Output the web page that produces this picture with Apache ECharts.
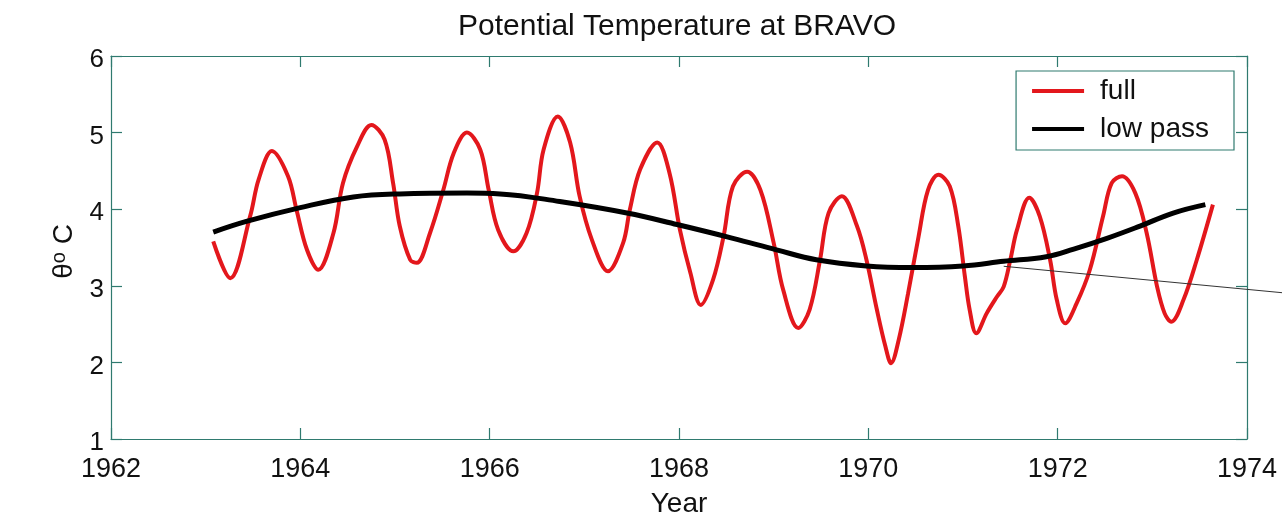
<!DOCTYPE html>
<html>
<head>
<meta charset="utf-8">
<script src="https://cdn.jsdelivr.net/npm/echarts@6/dist/echarts.min.js"></script>
<style>
  html, body { margin: 0; padding: 0; background: #fff; }
  #chart { width: 1282px; height: 517px; }
</style>
</head>
<body>
<div id="chart"></div>
<script>
// Potential temperature at Ocean Weather Station BRAVO, 1963-1973

// Full record: decimal year and potential temperature (deg C)
const fullYears = [
  1963.08, 1963.26, 1963.47, 1963.56, 1963.70, 1963.87, 1963.96, 1964.07, 1964.19, 1964.35,
  1964.45, 1964.60, 1964.75, 1964.89, 1964.98, 1965.05, 1965.16, 1965.23, 1965.37, 1965.51,
  1965.62, 1965.76, 1965.90, 1965.99, 1966.09, 1966.25, 1966.39, 1966.50, 1966.57, 1966.72,
  1966.85, 1966.95, 1967.08, 1967.25, 1967.41, 1967.48, 1967.59, 1967.77, 1967.90, 1968.01,
  1968.12, 1968.23, 1968.36, 1968.47, 1968.57, 1968.72, 1968.86, 1969.00, 1969.10, 1969.26,
  1969.38, 1969.49, 1969.58, 1969.72, 1969.88, 1969.98, 1970.09, 1970.18, 1970.24, 1970.32,
  1970.42, 1970.53, 1970.63, 1970.74, 1970.86, 1970.95, 1971.02, 1971.07, 1971.14, 1971.25,
  1971.36, 1971.43, 1971.50, 1971.57, 1971.70, 1971.81, 1971.92, 1971.99, 1972.08, 1972.20,
  1972.34, 1972.48, 1972.57, 1972.68, 1972.82, 1972.94, 1973.05, 1973.13, 1973.20, 1973.33,
  1973.47, 1973.64
];
const fullTemps = [
  3.58, 3.10, 3.91, 4.39, 4.76, 4.43, 3.99, 3.47, 3.21, 3.69,
  4.34, 4.82, 5.10, 4.91, 4.34, 3.78, 3.34, 3.30, 3.69, 4.25,
  4.73, 5.00, 4.78, 4.25, 3.73, 3.45, 3.69, 4.21, 4.78, 5.21,
  4.87, 4.17, 3.60, 3.19, 3.56, 3.99, 4.52, 4.87, 4.47, 3.73,
  3.17, 2.75, 3.08, 3.64, 4.30, 4.49, 4.25, 3.56, 2.95, 2.45,
  2.69, 3.34, 3.95, 4.17, 3.78, 3.34, 2.69, 2.21, 1.99, 2.29,
  2.90, 3.64, 4.25, 4.45, 4.30, 3.78, 3.12, 2.69, 2.38, 2.64,
  2.86, 2.99, 3.34, 3.73, 4.15, 3.91, 3.34, 2.82, 2.51, 2.77,
  3.21, 3.91, 4.34, 4.43, 4.21, 3.69, 2.99, 2.64, 2.53, 2.82,
  3.34, 4.06
];

// Low-pass filtered record
const lowYears = [
  1963.08, 1963.43, 1964.00, 1964.56, 1965.05, 1965.76, 1966.11, 1966.74, 1967.45, 1967.98,
  1968.57, 1969.03, 1969.45, 1969.98, 1970.47, 1971.00, 1971.43, 1971.88, 1972.17, 1972.52,
  1972.87, 1973.22, 1973.56
];
const lowTemps = [
  3.70, 3.84, 4.02, 4.16, 4.20, 4.21, 4.20, 4.10, 3.95, 3.80,
  3.62, 3.47, 3.34, 3.26, 3.24, 3.26, 3.32, 3.38, 3.48, 3.62,
  3.78, 3.95, 4.06
];

// Thin straight annotation line running off the right edge
const leaderYears = [1971.43, 1974.37];
const leaderTemps = [3.255, 2.91];

// Axis ticks
const xTicks = [1962, 1964, 1966, 1968, 1970, 1972, 1974];
const yTicks = [1, 2, 3, 4, 5, 6];

const seriesNames = ['full', 'low pass'];
const titleText = 'Potential Temperature at BRAVO';
const xName = 'Year';

const toPairs = (xs, ys) => xs.map((x, i) => [x, ys[i]]);

const axisColor = '#2f7a6f';
const textColor = '#111';
const fontFamily = '"Liberation Sans", Arial, Helvetica, sans-serif';

const xMin = xTicks[0], xMax = xTicks[xTicks.length - 1], xStep = xTicks[1] - xTicks[0];
const yMin = yTicks[0], yMax = yTicks[yTicks.length - 1], yStep = yTicks[1] - yTicks[0];

// Plot box in pixels
const W = 1282;
const gridBox = { left: 111, right: 35, top: 56, bottom: 78 };
const plotWidth = W - gridBox.left - gridBox.right;
// An overlay grid reaching the right page edge, with the same year scale,
// lets the annotation line run past the plot frame.
const overlayMax = xMax + gridBox.right * (xMax - xMin) / plotWidth;

const baseAxis = {
  type: 'value',
  axisLine: { show: true, onZero: false, lineStyle: { color: axisColor, width: 1.2 } },
  axisTick: { show: true, inside: true, length: 11, lineStyle: { color: axisColor, width: 1.2 } },
  splitLine: { show: false }
};

const hiddenAxis = {
  type: 'value',
  show: false,
  axisLine: { show: false }, axisTick: { show: false },
  axisLabel: { show: false }, splitLine: { show: false }
};

const chart = echarts.init(document.getElementById('chart'), null, { renderer: 'canvas' });

chart.setOption({
  backgroundColor: '#fff',
  animation: false,
  title: {
    text: titleText,
    left: 677,
    textAlign: 'center',
    top: 12,
    padding: 0,
    textStyle: { fontFamily, fontSize: 30, fontWeight: 'normal', color: textColor }
  },
  grid: [
    Object.assign({ outerBoundsMode: 'none', containLabel: false }, gridBox),
    { left: gridBox.left, right: 0, top: gridBox.top, bottom: gridBox.bottom,
      outerBoundsMode: 'none', containLabel: false }
  ],
  legend: {
    data: seriesNames,
    orient: 'vertical',
    right: 48,
    top: 71,
    padding: [6, 25, 7, 16],
    itemGap: 10,
    itemWidth: 52,
    itemHeight: 4,
    icon: 'rect',
    borderColor: axisColor,
    borderWidth: 1.2,
    backgroundColor: '#fff',
    borderRadius: 0,
    textStyle: { fontFamily, fontSize: 28, color: textColor, lineHeight: 28, padding: [0, 0, 0, 11] }
  },
  xAxis: [
    Object.assign({}, baseAxis, {
      gridIndex: 0,
      min: xMin, max: xMax, interval: xStep,
      position: 'bottom',
      name: xName,
      nameLocation: 'middle',
      nameGap: 51,
      nameTextStyle: { fontFamily, fontSize: 28, color: textColor },
      axisLabel: {
        fontFamily, fontSize: 27, color: textColor, margin: 17,
        showMinLabel: true, showMaxLabel: true,
        formatter: v => String(v)
      }
    }),
    Object.assign({}, baseAxis, {
      gridIndex: 0,
      min: xMin, max: xMax, interval: xStep,
      position: 'top',
      axisLabel: { show: false }
    }),
    Object.assign({}, hiddenAxis, { gridIndex: 1, min: xMin, max: overlayMax })
  ],
  yAxis: [
    Object.assign({}, baseAxis, {
      gridIndex: 0,
      min: yMin, max: yMax, interval: yStep,
      position: 'left',
      name: '{a|θ}{b|o}{a| C}',
      nameLocation: 'middle',
      nameRotate: 90,
      nameGap: 24,
      nameTextStyle: {
        fontFamily, fontSize: 28, color: textColor,
        padding: [0, 8, 0, 0],
        rich: {
          a: { fontFamily, fontSize: 28, color: textColor, lineHeight: 30 },
          b: { fontFamily, fontSize: 20, color: textColor, verticalAlign: 'top', lineHeight: 30 }
        }
      },
      axisLabel: {
        fontFamily, fontSize: 26, color: textColor, margin: 7,
        showMinLabel: true, showMaxLabel: true,
        formatter: v => '{v|' + v + '}',
        rich: {
          v: { fontFamily, fontSize: 26, color: textColor, padding: [8, 0, 0, 0] }
        }
      }
    }),
    Object.assign({}, baseAxis, {
      gridIndex: 0,
      min: yMin, max: yMax, interval: yStep,
      position: 'right',
      axisLabel: { show: false }
    }),
    Object.assign({}, hiddenAxis, { gridIndex: 1, min: yMin, max: yMax })
  ],
  series: [
    {
      name: seriesNames[0],
      type: 'line',
      xAxisIndex: 0, yAxisIndex: 0,
      data: toPairs(fullYears, fullTemps),
      smooth: 0.35,
      symbol: 'none',
      lineStyle: { color: '#e3171c', width: 4 },
      itemStyle: { color: '#e3171c' },
      z: 3
    },
    {
      name: seriesNames[1],
      type: 'line',
      xAxisIndex: 0, yAxisIndex: 0,
      data: toPairs(lowYears, lowTemps),
      smooth: 0.4,
      symbol: 'none',
      lineStyle: { color: '#000', width: 5 },
      itemStyle: { color: '#000' },
      z: 4
    },
    {
      name: 'leader',
      type: 'line',
      xAxisIndex: 2, yAxisIndex: 2,
      data: toPairs(leaderYears, leaderTemps),
      symbol: 'none',
      clip: false,
      silent: true,
      lineStyle: { color: '#333', width: 1 },
      z: 5
    }
  ]
});
</script>
</body>
</html>
